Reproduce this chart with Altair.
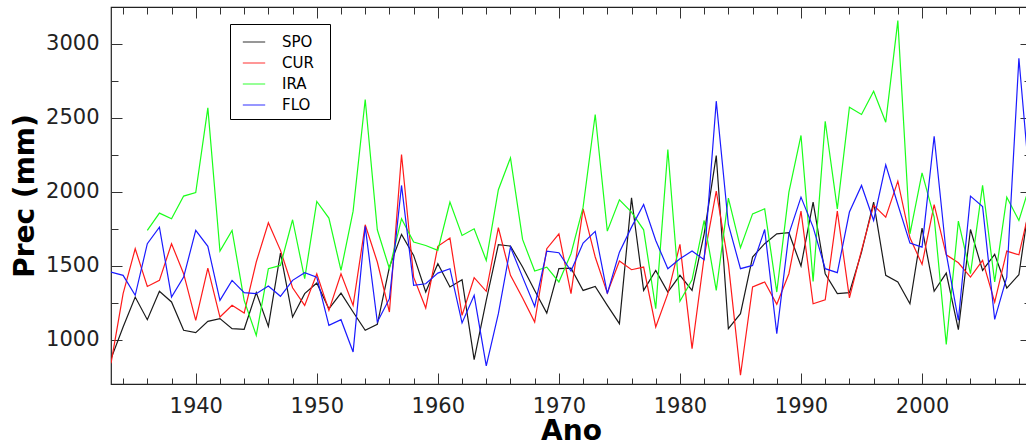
import altair as alt
import pandas as pd

years = list(range(1933, 2010))

spo = [870, 1085, 1288, 1135, 1327, 1255, 1063, 1047, 1124, 1142,
       1074, 1070, 1318, 1090, 1586, 1153, 1311, 1383, 1209, 1315,
       1187, 1063, 1104, 1491, 1712, 1570, 1322, 1514, 1356, 1405,
       865, 1266, 1642, 1633, 1491, 1333, 1180, 1480, 1484, 1333,
       1360, 1232, 1108, 1959, 1333, 1468, 1322, 1435, 1333, 1716,
       2245, 1074, 1176, 1559, 1649, 1716, 1723, 1498, 1930, 1446,
       1311, 1318, 1592, 1930, 1435, 1390, 1243, 1755, 1327, 1450,
       1068, 1745, 1468, 1577, 1349, 1439, 2000]

cur = [840, 1311, 1615, 1360, 1401, 1649, 1446, 1131, 1484, 1153,
       1232, 1180, 1525, 1791, 1604, 1351, 1232, 1446, 1198, 1446,
       1232, 1777, 1525, 1187, 2252, 1423, 1214, 1631, 1687, 1164,
       1419, 1327, 1757, 1435, 1282, 1119, 1615, 1716, 1311, 1885,
       1559, 1315, 1532, 1473, 1491, 1086, 1311, 1644, 939, 1559,
       2005, 1514, 759, 1356, 1390, 1239, 1446, 1869, 1243, 1270,
       1869, 1282, 1604, 1908, 1829, 2072, 1689, 1509, 1914, 1574,
       1520, 1423, 1536, 1254, 1599, 1574, 1930]

ira = [None, None, None, 1739, 1856, 1818, 1971, 1995, 2568, 1599,
       1739, 1266, 1029, 1480, 1502, 1811, 1412, 1935, 1822, 1468,
       1869, 2624, 1743, 1480, 1818, 1660, 1637, 1604, 1930, 1705,
       1750, 1536, 2014, 2230, 1678, 1464, 1490, 1390, 1581, 1896,
       2523, 1734, 1946, 1863, 1743, 1209, 2286, 1259, 1405, 1806,
       1333, 1957, 1622, 1851, 1885, 1322, 1998, 2381, 1394, 2477,
       1885, 2572, 2523, 2680, 2471, 3158, 1716, 2128, 1829, 968,
       1802, 1446, 2043, 1390, 1964, 1806, 2070]

flo = [1457, 1435, 1300, 1649, 1761, 1288, 1423, 1739, 1631, 1266,
       1401, 1318, 1311, 1363, 1293, 1401, 1453, 1423, 1097, 1135,
       917, 1766, 1119, 1277, 2043, 1367, 1378, 1450, 1480, 1113,
       1300, 822, 1176, 1626, 1423, 1225, 1599, 1588, 1464, 1653,
       1732, 1311, 1592, 1761, 1914, 1671, 1480, 1547, 1599, 1541,
       2613, 1779, 1480, 1502, 1745, 1041, 1716, 1964, 1761, 1480,
       1453, 1863, 2043, 1806, 2182, 1914, 1653, 1626, 2376, 1581,
       1131, 1971, 1901, 1137, 1423, 2903, 1960]

series = ["SPO", "CUR", "IRA", "FLO"]
colors = ["#1a1a1a", "#ff1a1a", "#1aff1a", "#1a1aff"]

major_x = [1940, 1950, 1960, 1970, 1980, 1990, 2000]
minor_x = [y for y in range(1934, 2010, 2) if y % 10 != 0]
major_y = [1000, 1500, 2000, 2500, 3000]
minor_y = [1250, 1750, 2250, 2750]

rows = []
for name, vals in zip(series, [spo, cur, ira, flo]):
    for yr, v in zip(years, vals):
        if v is not None:
            rows.append({"Ano": yr, "Prec": v, "Serie": name})
df = pd.DataFrame(rows)

W, H = 920, 377
xscale = alt.Scale(domain=[1933, 2009], nice=False, zero=False)
yscale = alt.Scale(domain=[700, 3250], nice=False, zero=False)

FONT = "DejaVu Sans"
TICK = "#333333"


def tick_axis(orient, values, size):
    return alt.Axis(orient=orient, values=values, tickSize=size, offset=-size,
                    labels=False, title="", domain=False, grid=False,
                    tickColor=TICK, tickWidth=1)


main = alt.Chart(df).mark_line(strokeWidth=1.2, clip=True).encode(
    x=alt.X("Ano:Q", scale=xscale,
            axis=alt.Axis(orient="bottom", values=major_x, format="d",
                          tickSize=11, offset=-11, domain=False, grid=False,
                          tickColor=TICK, tickWidth=1,
                          labelFont=FONT, labelFontSize=21, labelColor="#222222",
                          labelPadding=11, labelFlush=False,
                          title="Ano", titleFont=FONT, titleFontSize=28,
                          titleFontWeight="bold", titleColor="black",
                          titlePadding=1)),
    y=alt.Y("Prec:Q", scale=yscale,
            axis=alt.Axis(orient="left", values=major_y, format="d",
                          tickSize=11, offset=-11, domain=False, grid=False,
                          tickColor=TICK, tickWidth=1,
                          labelFont=FONT, labelFontSize=21, labelColor="#222222",
                          labelPadding=12, labelFlush=False,
                          title="Prec (mm)", titleFont=FONT, titleFontSize=28,
                          titleFontWeight="bold", titleColor="black",
                          titlePadding=6)),
    color=alt.Color("Serie:N", sort=series,
                    scale=alt.Scale(domain=series, range=colors),
                    legend=alt.Legend(title="x", titleOrient="right",
                                      titleOpacity=0, titleFontSize=6,
                                      titlePadding=6,
                                      orient="none", legendX=119, legendY=17,
                                      direction="vertical", symbolType="stroke",
                                      symbolSize=500, symbolStrokeWidth=1.2,
                                      symbolOpacity=0.75,
                                      symbolOffset=6,
                                      labelFont=FONT, labelFontSize=15,
                                      labelColor="black", labelOffset=16,
                                      strokeColor="black", fillColor="white",
                                      padding=6, rowPadding=1)),
)

l1 = alt.Chart(df).mark_line(opacity=0).encode(
    x=alt.X("Ano:Q", scale=xscale, axis=tick_axis("bottom", minor_x, 6)),
    y=alt.Y("Prec:Q", scale=yscale, axis=tick_axis("left", minor_y, 7)),
    detail="Serie:N",
)
l2 = alt.Chart(df).mark_line(opacity=0).encode(
    x=alt.X("Ano:Q", scale=xscale, axis=tick_axis("top", major_x, 11)),
    y=alt.Y("Prec:Q", scale=yscale, axis=tick_axis("right", major_y, 11)),
    detail="Serie:N",
)
l3 = alt.Chart(df).mark_line(opacity=0).encode(
    x=alt.X("Ano:Q", scale=xscale, axis=tick_axis("top", minor_x, 7)),
    y=alt.Y("Prec:Q", scale=yscale, axis=tick_axis("right", minor_y, 7)),
    detail="Serie:N",
)

chart = alt.layer(main, l1, l2, l3).resolve_axis(
    x="independent", y="independent"
).properties(
    width=W, height=H,
    autosize=alt.AutoSizeParams(type="none"),
    padding={"left": 111, "top": 7, "right": -5, "bottom": 61},
    background="white",
).configure_view(stroke="#222222", strokeWidth=1.2)

chart.save("out.html", embed_options={"renderer": "svg", "actions": False})
